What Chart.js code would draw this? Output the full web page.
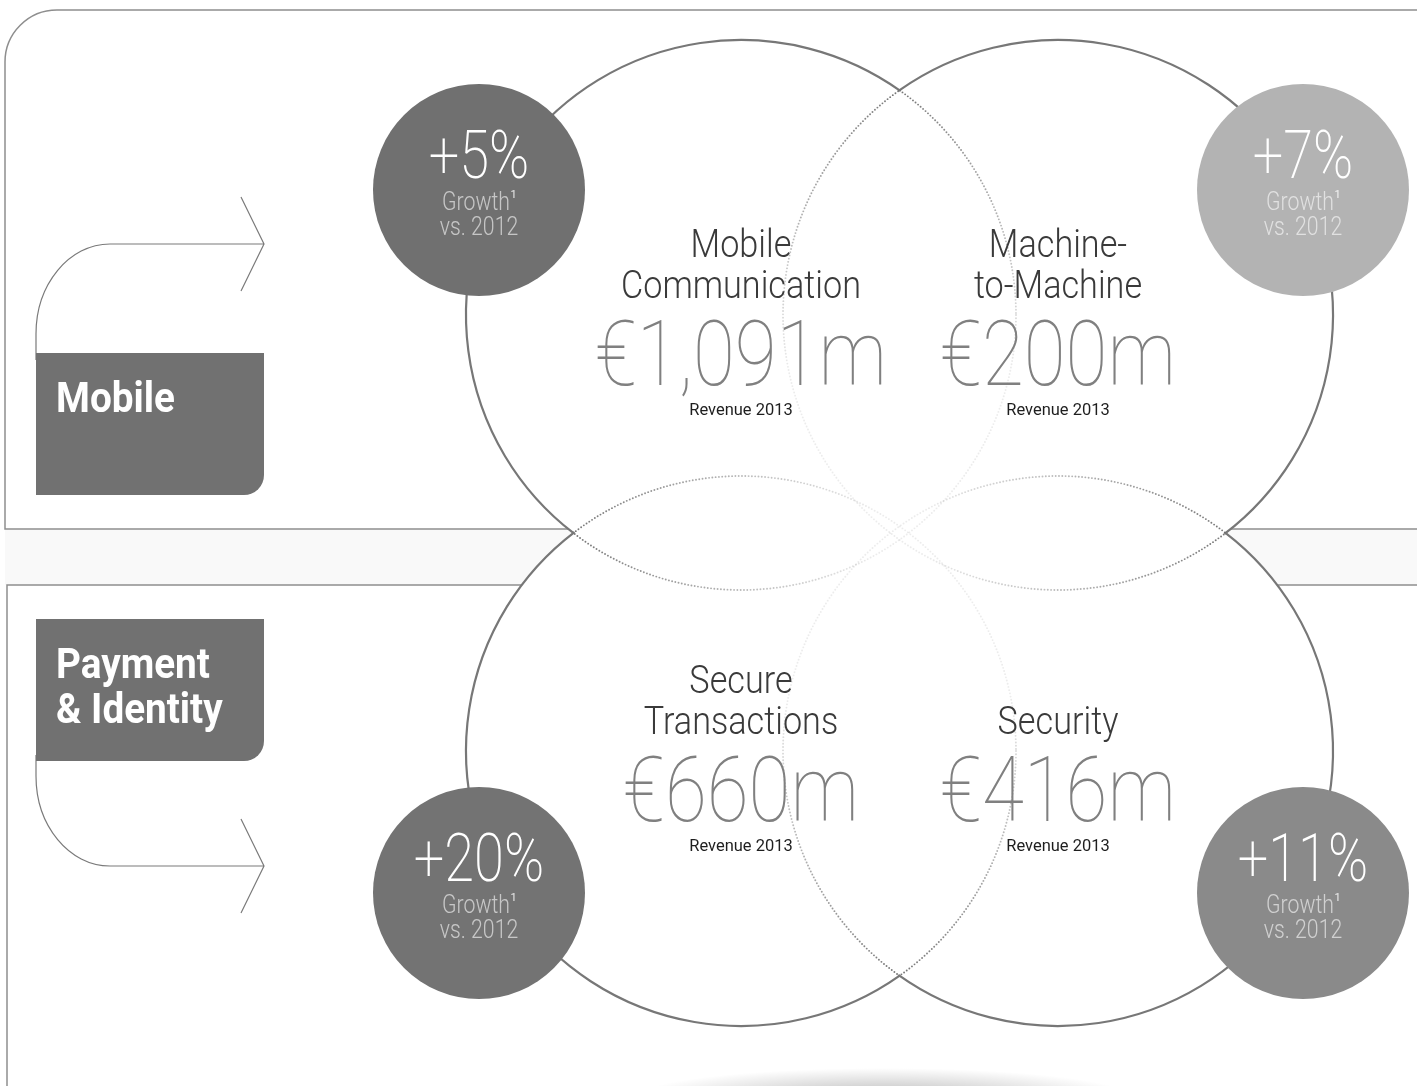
<!DOCTYPE html>
<html>
<head>
<meta charset="utf-8">
<script src="https://cdn.jsdelivr.net/npm/chart.js@4.4.1/dist/chart.umd.min.js"></script>
<style>
  html, body { margin: 0; padding: 0; background: #fff; }
  canvas { display: block; }
</style>
</head>
<body>
<canvas id="vennChartCanvas" width="1417" height="1086"></canvas>
<script>
// data
const divisions = ["Mobile", "Payment & Identity"];
const segments = [["Mobile", "Communication"], ["Machine-", "to-Machine"], ["Secure", "Transactions"], ["Security"]];
const revenue = [1091, 200, 660, 416]; // EUR m
const growth = [5, 7, 20, 11]; // % vs base year
const revenueYear = 2013;
const baseYear = 2012;

// layout (px)
const W = 1417, H = 1086;
const colPx = [741, 1058], rowPx = [315, 751];
const vennR = 275, growthR = 106;
const growthOff = { x: [-262, 245], y: [-125, 142] };
const growthColors = ["#707070", "#b3b3b3", "#737373", "#8a8a8a"];
const colUnit = colPx[1] - colPx[0], rowUnit = rowPx[1] - rowPx[0];

const cell = i => ({ col: i % 2, row: Math.floor(i / 2) });
const vennPoints = revenue.map((v, i) => ({ x: cell(i).col, y: cell(i).row }));
const growthPoints = growth.map((g, i) => {
  const c = cell(i);
  return { x: c.col + growthOff.x[c.col] / colUnit, y: c.row + growthOff.y[c.row] / rowUnit };
});

let ctx_venn = document.querySelector("#vennChartCanvas").getContext("2d");

function squeezeText(c, text, x, y, sx, align) {
  c.save();
  c.translate(x, y);
  c.scale(sx, 1);
  c.textAlign = align || "center";
  c.fillText(text, 0, 0);
  c.restore();
}

function drawBackdrop(c) {
  c.save();
  c.fillStyle = "#ffffff";
  c.fillRect(0, 0, W, H);
  c.fillStyle = "#f9f9f9";
  c.fillRect(5, 529, W, 56);
  c.strokeStyle = "#8e8e8e";
  c.lineWidth = 1.5;
  c.beginPath();
  c.moveTo(W + 5, 10);
  c.lineTo(57, 10);
  c.arcTo(5, 10, 5, 62, 52);
  c.lineTo(5, 529);
  c.lineTo(W + 5, 529);
  c.stroke();
  c.beginPath();
  c.moveTo(W + 5, 585);
  c.lineTo(7, 585);
  c.lineTo(7, H + 5);
  c.stroke();

  // soft shadow under the diagram
  c.translate(884, 1098);
  c.scale(1, 0.12);
  const g = c.createRadialGradient(0, 0, 0, 0, 0, 250);
  g.addColorStop(0, "rgba(0,0,0,0.28)");
  g.addColorStop(1, "rgba(0,0,0,0)");
  c.fillStyle = g;
  c.beginPath();
  c.arc(0, 0, 250, 0, Math.PI * 2);
  c.fill();
  c.restore();
}

function drawDivisionTags(c) {
  c.save();
  // arrows
  c.strokeStyle = "#7a7a7a";
  c.lineWidth = 1.2;
  c.beginPath();
  c.moveTo(36, 360);
  c.lineTo(36, 334);
  c.bezierCurveTo(36, 334 - 90 * 0.552, 110 - 74 * 0.552, 244, 110, 244);
  c.lineTo(264, 244);
  c.moveTo(241, 197);
  c.lineTo(264, 244);
  c.lineTo(241, 291);
  c.stroke();
  c.beginPath();
  c.moveTo(36, 755);
  c.lineTo(36, 776);
  c.bezierCurveTo(36, 776 + 90 * 0.552, 110 - 74 * 0.552, 866, 110, 866);
  c.lineTo(264, 866);
  c.moveTo(241, 819);
  c.lineTo(264, 866);
  c.lineTo(241, 913);
  c.stroke();

  // boxes
  const boxes = [{ x: 36, y: 353 }, { x: 36, y: 619 }];
  const bw = 228, bh = 142, br = 20;
  divisions.forEach((name, i) => {
    const b = boxes[i];
    c.fillStyle = "#717171";
    c.beginPath();
    c.moveTo(b.x, b.y);
    c.lineTo(b.x + bw, b.y);
    c.lineTo(b.x + bw, b.y + bh - br);
    c.arcTo(b.x + bw, b.y + bh, b.x + bw - br, b.y + bh, br);
    c.lineTo(b.x, b.y + bh);
    c.closePath();
    c.fill();
    c.fillStyle = "#ffffff";
    c.font = "bold 43px Roboto";
    c.textBaseline = "alphabetic";
    name.replace(" & ", "\n& ").split("\n").forEach((line, k) => {
      squeezeText(c, line, b.x + 20, b.y + 59 + k * 45, 0.9, "left");
    });
  });
  c.restore();
}

function drawVennOutlines(c, pts, r) {
  const N = 1440, TAU = Math.PI * 2;
  c.save();
  pts.forEach((p, i) => {
    const others = pts.filter((q, j) => j !== i);
    const inside = a => {
      const px = p.x + r * Math.cos(a), py = p.y + r * Math.sin(a);
      return others.some(q => Math.hypot(px - q.x, py - q.y) < r - 0.5);
    };
    const solid = [];
    for (let k = 0; k < N; k++) solid.push(!inside(k * TAU / N));
    const solidAngles = [];
    solid.forEach((s, k) => { if (s) solidAngles.push(k * TAU / N); });

    // dotted parts, fading away from the outer rim
    const step = 3.3 / r;
    for (let a = 0; a < TAU; a += step) {
      if (!inside(a)) continue;
      let d = Infinity;
      for (const sa of solidAngles) {
        let da = Math.abs(a - sa);
        da = Math.min(da, TAU - da);
        if (da < d) d = da;
      }
      d *= r;
      const alpha = 0.88 - 0.76 * Math.min(1, d / 320);
      c.fillStyle = "rgba(100,100,100," + alpha.toFixed(3) + ")";
      c.beginPath();
      c.arc(p.x + r * Math.cos(a), p.y + r * Math.sin(a), 0.95, 0, TAU);
      c.fill();
    }

    // solid outer rim
    c.strokeStyle = "#777777";
    c.lineWidth = 2.2;
    let k0 = solid.indexOf(false);
    if (k0 < 0) k0 = 0;
    let runStart = null;
    for (let t = 1; t <= N; t++) {
      const k = (k0 + t) % N;
      if (solid[k] && runStart === null) runStart = k0 + t;
      if ((!solid[k] || t === N) && runStart !== null) {
        c.beginPath();
        c.arc(p.x, p.y, r, runStart * TAU / N, (k0 + t) * TAU / N);
        c.stroke();
        runStart = null;
      }
    }
  });
  c.restore();
}

function drawSegmentTexts(c, pts) {
  c.save();
  c.textBaseline = "alphabetic";
  pts.forEach((p, i) => {
    const lines = segments[i];
    c.fillStyle = "#3a3a3a";
    c.font = "300 38px Roboto";
    lines.forEach((line, k) => {
      squeezeText(c, line, p.x, p.y - 17 - (lines.length - 1 - k) * 41, 0.9);
    });
    c.fillStyle = "#808080";
    c.font = "100 91px Roboto";
    squeezeText(c, "€" + revenue[i].toLocaleString("en-US") + "m", p.x, p.y + 70, 0.84);
    c.fillStyle = "#1e1e1e";
    c.font = "400 17px Roboto";
    squeezeText(c, "Revenue " + revenueYear, p.x, p.y + 100, 0.97);
  });
  c.restore();
}

function drawGrowthTexts(c, pts) {
  c.save();
  c.textBaseline = "alphabetic";
  pts.forEach((p, i) => {
    c.fillStyle = "#ffffff";
    c.font = "200 66px Roboto";
    squeezeText(c, "+" + growth[i] + "%", p.x, p.y - 12, 0.82);

    c.fillStyle = "rgba(255,255,255,0.6)";
    c.font = "300 25px Roboto";
    const sx = 0.85;
    const wG = c.measureText("Growth").width * sx;
    c.font = "300 11px Roboto";
    const wS = c.measureText("1").width;
    const x0 = p.x - (wG + wS) / 2;
    c.font = "300 25px Roboto";
    squeezeText(c, "Growth", x0, p.y + 20, sx, "left");
    c.font = "400 11px Roboto";
    c.fillStyle = "rgba(255,255,255,0.85)";
    c.textAlign = "left";
    c.fillText("1", x0 + wG + 0.5, p.y + 8);
    c.fillStyle = "rgba(255,255,255,0.6)";
    c.font = "300 25px Roboto";
    squeezeText(c, "vs. " + baseYear, p.x, p.y + 45, sx);
  });
  c.restore();
}

const vennDecor = {
  id: "vennDecor",
  beforeDatasetsDraw(chart) {
    drawBackdrop(chart.ctx);
    drawDivisionTags(chart.ctx);
  },
  afterDatasetDraw(chart, args) {
    if (args.index !== 1) return;
    const pts = chart.getDatasetMeta(1).data.map(el => ({ x: el.x, y: el.y }));
    drawVennOutlines(chart.ctx, pts, vennR);
    drawSegmentTexts(chart.ctx, pts);
  },
  afterDatasetsDraw(chart) {
    const pts = chart.getDatasetMeta(0).data.map(el => ({ x: el.x, y: el.y }));
    drawGrowthTexts(chart.ctx, pts);
  },
};

new Chart(ctx_venn, {
  type: "bubble",
  data: {
    datasets: [
      {
        label: "Growth vs. " + baseYear,
        data: growthPoints,
        radius: growthR,
        backgroundColor: growthColors,
        borderWidth: 0,
        order: 0,
      },
      {
        label: "Revenue " + revenueYear,
        data: vennPoints,
        radius: vennR,
        backgroundColor: "#ffffff",
        borderWidth: 0,
        order: 1,
      },
    ],
  },
  options: {
    responsive: false,
    animation: false,
    devicePixelRatio: 1,
    events: [],
    layout: { padding: 0, autoPadding: false },
    plugins: { legend: { display: false }, tooltip: { enabled: false } },
    scales: {
      x: {
        type: "linear",
        display: false,
        bounds: "data",
        min: -colPx[0] / colUnit,
        max: (W - colPx[0]) / colUnit,
      },
      y: {
        type: "linear",
        display: false,
        bounds: "data",
        reverse: true,
        min: -rowPx[0] / rowUnit,
        max: (H - rowPx[0]) / rowUnit,
      },
    },
  },
  plugins: [vennDecor],
});
</script>
</body>
</html>
